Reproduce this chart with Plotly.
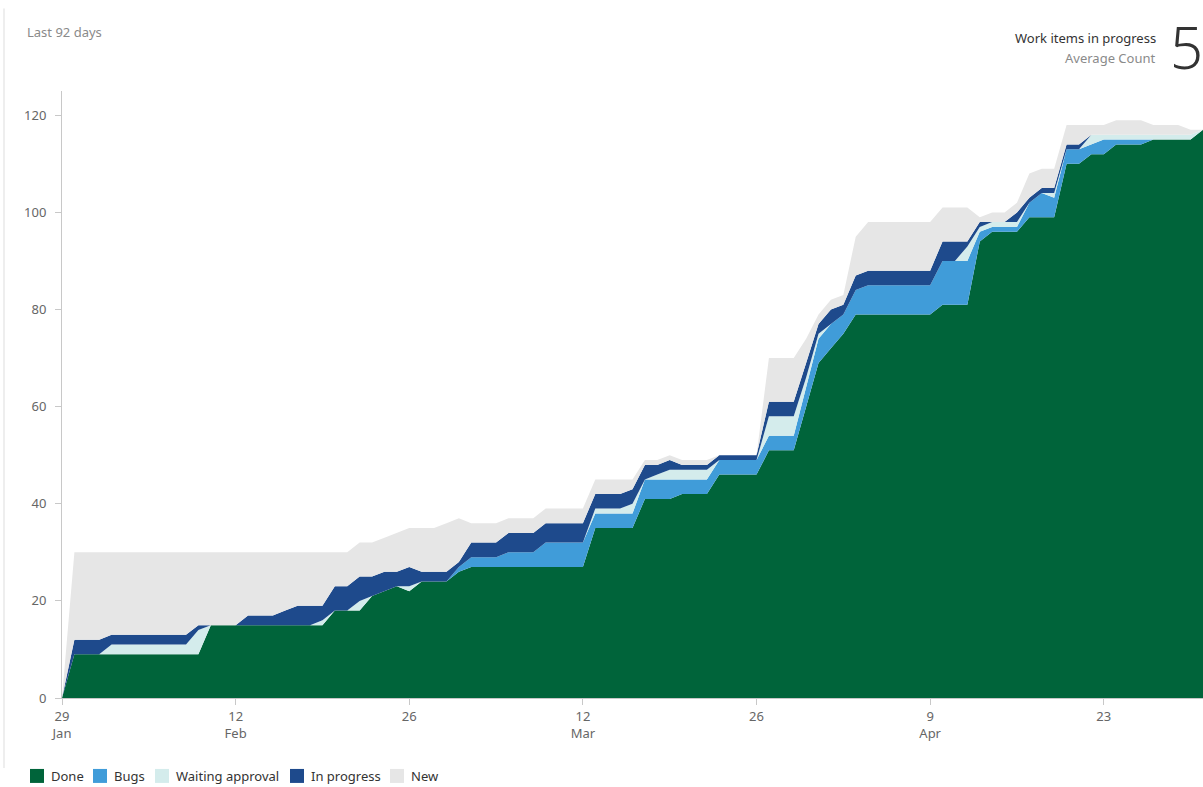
import pandas as pd
import plotly.graph_objects as go

# Daily item counts per state (stacked cumulative flow), 29 Jan - 1 May
dates = pd.date_range("2018-01-29", periods=93, freq="D")

done = [0, 9, 9, 9, 9, 9, 9, 9, 9, 9, 9, 9, 15, 15, 15, 15, 15, 15, 15, 15,
        15, 15, 18, 18, 18, 21, 22, 23, 22, 24, 24, 24, 26, 27, 27, 27, 27, 27, 27, 27,
        27, 27, 27, 35, 35, 35, 35, 41, 41, 41, 42, 42, 42, 46, 46, 46, 46, 51, 51, 51,
        60, 69, 72, 75, 79, 79, 79, 79, 79, 79, 79, 81, 81, 81, 94, 96, 96, 96, 99, 99,
        99, 110, 110, 112, 112, 114, 114, 114, 115, 115, 115, 115, 117]

bugs = [0, 0, 0, 0, 0, 0, 0, 0, 0, 0, 0, 0, 0, 0, 0, 0, 0, 0, 0, 0,
        0, 0, 0, 0, 0, 0, 0, 0, 0, 0, 0, 0, 1, 2, 2, 2, 3, 3, 3, 5,
        5, 5, 5, 3, 3, 3, 3, 4, 4, 4, 3, 3, 3, 3, 3, 3, 3, 3, 3, 3,
        4, 5, 5, 4, 5, 6, 6, 6, 6, 6, 6, 9, 9, 9, 2, 1, 1, 1, 3, 5,
        4, 3, 3, 2, 3, 1, 1, 1, 0, 0, 0, 0, 0]

waiting = [0, 0, 0, 0, 2, 2, 2, 2, 2, 2, 2, 5, 0, 0, 0, 0, 0, 0, 0, 0,
           0, 1, 0, 0, 2, 0, 0, 0, 1, 0, 0, 0, 0, 0, 0, 0, 0, 0, 0, 0,
           0, 0, 0, 1, 1, 1, 2, 0, 1, 2, 2, 2, 2, 0, 0, 0, 0, 4, 4, 4,
           2, 1, 0, 0, 0, 0, 0, 0, 0, 0, 0, 0, 0, 3, 1, 1, 1, 1, 0, 0,
           1, 0, 0, 2, 1, 1, 1, 1, 1, 1, 1, 1, 0]

in_progress = [0, 3, 3, 3, 2, 2, 2, 2, 2, 2, 2, 1, 0, 0, 0, 2, 2, 2, 3, 4,
               4, 3, 5, 5, 5, 4, 4, 3, 4, 2, 2, 2, 1, 3, 3, 3, 4, 4, 4, 4,
               4, 4, 4, 3, 3, 3, 3, 3, 2, 2, 1, 1, 1, 1, 1, 1, 1, 3, 3, 3,
               3, 2, 3, 2, 3, 3, 3, 3, 3, 3, 3, 4, 4, 1, 1, 0, 0, 2, 1, 1,
               1, 1, 1, 0, 0, 0, 0, 0, 0, 0, 0, 0, 0]

new = [0, 18, 18, 18, 17, 17, 17, 17, 17, 17, 17, 15, 15, 15, 15, 13, 13, 13, 12, 11,
       11, 11, 7, 7, 7, 7, 7, 8, 8, 9, 9, 10, 9, 4, 4, 4, 3, 3, 3, 3,
       3, 3, 3, 3, 3, 3, 2, 1, 1, 1, 1, 1, 1, 0, 0, 0, 0, 9, 9, 9,
       5, 2, 2, 2, 8, 10, 10, 10, 10, 10, 10, 7, 7, 7, 1, 2, 2, 2, 5, 4,
       4, 4, 4, 2, 2, 3, 3, 3, 2, 2, 2, 1, 0]

series_names = ["Done", "Bugs", "Waiting approval", "In progress", "New"]
series_values = [done, bugs, waiting, in_progress, new]
series_colors = ["#00643a", "#409cd9", "#d4ecec", "#1e4a8c", "#e6e6e6"]

tick_dates = ["2018-01-29", "2018-02-12", "2018-02-26", "2018-03-12",
              "2018-03-26", "2018-04-09", "2018-04-23"]
tick_labels = ["29<br>Jan", "12<br>Feb", "26", "12<br>Mar", "26", "9<br>Apr", "23"]

FONT = "Segoe UI, Noto Sans, Open Sans, sans-serif"

fig = go.Figure()
for name, vals, color in zip(series_names, series_values, series_colors):
    fig.add_trace(go.Scatter(
        x=dates, y=vals, name=name, mode="lines",
        stackgroup="cfd", line=dict(width=0, color=color),
        fillcolor=color, showlegend=False,
    ))

L, R, T, B = 62, 0, 90.5, 89
W, H = 1203, 787
pw, ph = W - L - R, H - T - B


def px(xp):
    return (xp - L) / pw


def py(yp):
    return (H - B - yp) / ph


fig.update_layout(
    width=W, height=H,
    margin=dict(l=L, r=R, t=T, b=B, autoexpand=False),
    paper_bgcolor="white", plot_bgcolor="white",
    font=dict(family=FONT, size=13, color="#666666"),
    showlegend=False,
    xaxis=dict(
        range=["2018-01-29", "2018-05-01"],
        tickmode="array", tickvals=tick_dates, ticktext=tick_labels,
        showgrid=False, zeroline=False,
        showline=True, linecolor="#c8c8c8", linewidth=1,
        ticks="outside", ticklen=6, tickcolor="#c8c8c8",
        tickfont=dict(size=13, color="#666666"),
    ),
    yaxis=dict(
        range=[0, 125], tickvals=[0, 20, 40, 60, 80, 100, 120],
        showgrid=False, zeroline=False,
        showline=True, linecolor="#c8c8c8", linewidth=1,
        ticks="outside", ticklen=6, tickcolor="#c8c8c8",
        tickfont=dict(size=13, color="#666666"), ticklabelstandoff=6,
    ),
    hovermode="x unified",
)

annotations = [
    dict(text="Last 92 days", x=px(25), y=py(31), xanchor="left", yanchor="middle",
         font=dict(size=13, color="#8a8a8a")),
    dict(text="Work items in progress", x=px(1158), y=py(37), xanchor="right", yanchor="middle",
         font=dict(size=13, color="#333333")),
    dict(text="Average Count", x=px(1158), y=py(57), xanchor="right", yanchor="middle",
         font=dict(size=13, color="#8a8a8a")),
    dict(text="5", x=px(1168), y=py(46), xanchor="left", yanchor="middle",
         font=dict(size=58, color="#333333", weight=300)),
]

# legend row below the axis: swatch square + label per series
legend_x = [30, 93, 155, 290, 390]
legend_y = 776
sw = 14
for name, color, lx in zip(series_names, series_colors, legend_x):
    fig.add_shape(type="rect", xref="paper", yref="paper",
                  x0=px(lx), x1=px(lx + sw), y0=py(legend_y + sw / 2), y1=py(legend_y - sw / 2),
                  fillcolor=color, line=dict(width=0))
    annotations.append(dict(text=name, x=px(lx + sw + 5), y=py(legend_y), xanchor="left",
                            yanchor="middle", font=dict(size=13, color="#333333")))

for a in annotations:
    a.update(xref="paper", yref="paper", showarrow=False)
fig.update_layout(annotations=annotations)

# widget frame edge on the left
fig.add_shape(type="line", xref="paper", yref="paper",
              x0=px(4), x1=px(4), y0=py(8), y1=py(768),
              line=dict(color="#eeeeee", width=2))

fig.write_html("out.html")
